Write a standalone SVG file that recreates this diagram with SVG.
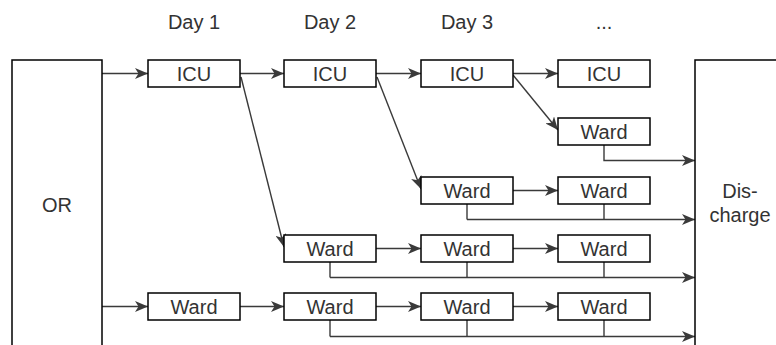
<svg xmlns="http://www.w3.org/2000/svg" width="776" height="345" viewBox="0 0 776 345">
  <style>
    .box { fill: #ffffff; stroke: #000000; stroke-width: 1.5; }
    .lbl { font-family: "Liberation Sans", Arial, Helvetica, sans-serif; font-size: 20px; fill: #333333; text-anchor: middle; }
    .edge { fill: none; stroke: #3a3a3a; stroke-width: 1.4; }
    .arrow { fill: none; stroke: #3a3a3a; stroke-width: 1.4; marker-end: url(#head); }
  </style>
  <defs>
    <marker id="head" markerUnits="userSpaceOnUse" markerWidth="13" markerHeight="11" refX="13" refY="5.5" orient="auto" viewBox="0 0 13 11">
      <path d="M0,0 L13,5.5 L0,11 L3.5,5.5 Z" fill="#3a3a3a"/>
    </marker>
  </defs>

  <rect width="776" height="345" fill="#ffffff"/>

  <!-- column headings -->
  <g id="headings">
    <text class="lbl" x="194" y="29">Day 1</text>
    <text class="lbl" x="330" y="29">Day 2</text>
    <text class="lbl" x="467" y="29">Day 3</text>
    <text class="lbl" x="604" y="29">...</text>
  </g>

  <!-- connectors -->
  <g id="connectors">
    <!-- row 1: ICU chain -->
    <path class="arrow" d="M102,73.5 H148"/>
    <path class="arrow" d="M240,73.5 H284"/>
    <path class="arrow" d="M376,73.5 H421"/>
    <path class="arrow" d="M513,73.5 H558"/>
    <!-- ICU to ward transfers -->
    <path class="arrow" d="M241,77 L284,247"/>
    <path class="arrow" d="M377,77 L421,189"/>
    <path class="arrow" d="M513,75 L558,130"/>
    <!-- row 3 -->
    <path class="arrow" d="M513,190.5 H558"/>
    <!-- row 4 -->
    <path class="arrow" d="M376,248.5 H421"/>
    <path class="arrow" d="M513,248.5 H558"/>
    <!-- row 5 -->
    <path class="arrow" d="M102,306.5 H148"/>
    <path class="arrow" d="M240,306.5 H284"/>
    <path class="arrow" d="M376,306.5 H421"/>
    <path class="arrow" d="M513,306.5 H558"/>

    <!-- discharge lines -->
    <path class="arrow" d="M604,145 V160.5 H695"/>

    <path class="edge" d="M467,204 V219.5"/>
    <path class="edge" d="M604,204 V219.5"/>
    <path class="arrow" d="M467,219.5 H695"/>

    <path class="edge" d="M330,262 V277.5"/>
    <path class="edge" d="M467,262 V277.5"/>
    <path class="edge" d="M604,262 V277.5"/>
    <path class="arrow" d="M330,277.5 H695"/>

    <path class="edge" d="M330,320 V336.5"/>
    <path class="edge" d="M467,320 V336.5"/>
    <path class="edge" d="M604,320 V336.5"/>
    <path class="arrow" d="M330,336.5 H695"/>
  </g>

  <!-- nodes -->
  <g id="or">
    <rect class="box" x="12" y="60" width="90" height="292"/>
    <text class="lbl" x="57" y="212">OR</text>
  </g>
  <g id="discharge">
    <rect class="box" x="695" y="60" width="90" height="292"/>
    <text class="lbl" x="740" y="198">Dis-</text>
    <text class="lbl" x="740" y="222">charge</text>
  </g>

  <g id="icu-d1"><rect class="box" x="148" y="60" width="92" height="27"/><text class="lbl" x="194" y="81">ICU</text></g>
  <g id="icu-d2"><rect class="box" x="284" y="60" width="92" height="27"/><text class="lbl" x="330" y="81">ICU</text></g>
  <g id="icu-d3"><rect class="box" x="421" y="60" width="92" height="27"/><text class="lbl" x="467" y="81">ICU</text></g>
  <g id="icu-d4"><rect class="box" x="558" y="60" width="92" height="27"/><text class="lbl" x="604" y="81">ICU</text></g>

  <g id="ward-r2-d4"><rect class="box" x="558" y="118" width="92" height="27"/><text class="lbl" x="604" y="139">Ward</text></g>

  <g id="ward-r3-d3"><rect class="box" x="421" y="177" width="92" height="27"/><text class="lbl" x="467" y="198">Ward</text></g>
  <g id="ward-r3-d4"><rect class="box" x="558" y="177" width="92" height="27"/><text class="lbl" x="604" y="198">Ward</text></g>

  <g id="ward-r4-d2"><rect class="box" x="284" y="235" width="92" height="27"/><text class="lbl" x="330" y="256">Ward</text></g>
  <g id="ward-r4-d3"><rect class="box" x="421" y="235" width="92" height="27"/><text class="lbl" x="467" y="256">Ward</text></g>
  <g id="ward-r4-d4"><rect class="box" x="558" y="235" width="92" height="27"/><text class="lbl" x="604" y="256">Ward</text></g>

  <g id="ward-r5-d1"><rect class="box" x="148" y="293" width="92" height="27"/><text class="lbl" x="194" y="314">Ward</text></g>
  <g id="ward-r5-d2"><rect class="box" x="284" y="293" width="92" height="27"/><text class="lbl" x="330" y="314">Ward</text></g>
  <g id="ward-r5-d3"><rect class="box" x="421" y="293" width="92" height="27"/><text class="lbl" x="467" y="314">Ward</text></g>
  <g id="ward-r5-d4"><rect class="box" x="558" y="293" width="92" height="27"/><text class="lbl" x="604" y="314">Ward</text></g>
</svg>
